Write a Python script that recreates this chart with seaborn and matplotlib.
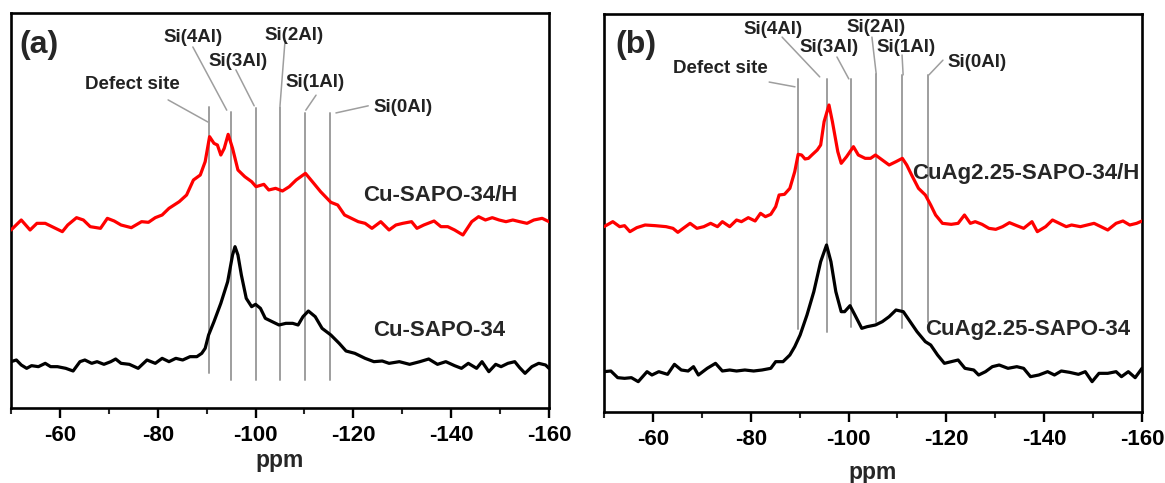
import matplotlib
matplotlib.use("Agg")
import matplotlib.pyplot as plt
from matplotlib.ticker import MultipleLocator
import seaborn as sns

# ---------------- data: 29Si MAS NMR spectra (chemical shift in ppm) ----------------
# Panel (a): Cu-SAPO-34/H (red, stacked above) and Cu-SAPO-34 (black)
a_h_ppm = [-50.0, -52.1, -53.9, -55.3, -57.0, -59.1, -60.5, -61.6, -63.4, -64.8, -66.2, -68.3,
           -69.7, -71.1, -72.5, -74.6, -76.7, -78.1, -79.5, -80.9, -82.3, -84.4, -85.9, -87.3,
           -88.7, -89.7, -90.6, -91.5, -92.2, -92.9, -93.6, -94.4, -95.3, -96.4, -97.8, -99.2,
           -100.1, -101.7, -102.7, -104.1, -105.5, -106.9, -108.3, -110.2, -111.9, -113.3,
           -115.4, -116.8, -118.2, -119.6, -121.0, -122.4, -123.8, -125.6, -127.3, -128.7,
           -130.1, -131.9, -133.0, -134.4, -136.5, -137.9, -139.3, -140.7, -142.4, -144.2,
           -145.6, -147.0, -148.4, -149.8, -151.2, -152.6, -154.0, -155.5, -156.9, -158.6, -160.0]
a_h_int = [49.5, 52.5, 49.5, 51.5, 51.5, 50.0, 49.0, 51.0, 53.2, 52.5, 50.5, 50.0,
           53.0, 52.2, 51.0, 50.2, 52.0, 51.8, 53.2, 54.0, 56.0, 58.0, 60.0, 64.5,
           66.0, 70.0, 77.5, 75.5, 75.0, 72.0, 74.0, 78.2, 74.0, 67.5, 65.5, 64.0,
           62.5, 63.2, 61.5, 62.0, 61.2, 62.5, 64.5, 66.5, 63.5, 61.0,
           57.8, 57.0, 54.0, 53.0, 52.0, 51.5, 50.0, 52.0, 49.5, 51.0,
           51.5, 52.0, 50.0, 51.0, 52.2, 50.5, 50.5, 49.5, 48.0, 52.0,
           53.5, 52.5, 53.2, 52.5, 52.0, 52.5, 52.0, 51.5, 52.5, 53.0, 52.0]

a_cu_ppm = [-50.0, -51.1, -52.1, -53.2, -54.2, -55.6, -57.0, -58.1, -59.5, -61.2, -62.7, -64.1,
            -65.1, -66.5, -67.6, -69.0, -70.4, -71.4, -72.5, -74.2, -76.0, -77.8, -79.5, -80.9,
            -82.3, -83.7, -85.1, -86.6, -88.0, -89.0, -89.7, -90.4, -91.5, -92.9, -94.3, -95.3,
            -95.8, -96.4, -97.1, -98.1, -99.2, -100.0, -101.0, -102.0, -103.4, -104.8, -106.2,
            -107.6, -108.7, -109.7, -110.8, -112.2, -113.6, -115.4, -117.1, -118.5, -120.3,
            -122.4, -124.2, -125.9, -127.3, -129.4, -131.5, -133.6, -135.4, -137.2, -138.9,
            -140.7, -142.1, -143.5, -145.2, -146.3, -147.7, -149.1, -150.2, -151.6, -153.0,
            -154.0, -155.1, -156.5, -157.9, -159.3, -160.0]
a_cu_int = [10.0, 10.5, 9.0, 8.0, 8.8, 8.5, 9.5, 8.5, 8.5, 8.0, 7.2, 10.0,
            10.5, 9.5, 10.0, 9.2, 10.0, 10.8, 9.5, 9.2, 8.0, 10.5, 9.5, 11.0,
            10.0, 11.0, 10.5, 11.5, 11.5, 12.5, 14.0, 18.0, 22.0, 27.5, 34.0, 42.0,
            44.5, 42.0, 36.0, 29.0, 26.5, 27.2, 26.0, 23.0, 22.0, 21.0, 21.5,
            21.5, 21.0, 23.5, 25.2, 23.5, 20.0, 18.0, 15.5, 13.2, 12.5,
            11.0, 10.0, 10.2, 9.5, 10.0, 9.2, 10.0, 10.8, 9.2, 10.0,
            8.8, 8.0, 9.5, 8.0, 10.0, 7.0, 9.2, 8.5, 9.5, 10.0,
            8.2, 6.5, 8.5, 9.5, 9.0, 8.0]

# Panel (b): CuAg2.25-SAPO-34/H (red, stacked above) and CuAg2.25-SAPO-34 (black)
b_h_ppm = [-50.0, -51.8, -53.2, -54.2, -55.3, -56.7, -58.4, -60.5, -62.7, -64.1, -65.1, -66.2,
           -67.6, -69.0, -70.4, -71.8, -73.2, -74.2, -75.7, -77.1, -78.1, -79.5, -80.9, -82.0,
           -83.0, -84.1, -85.1, -85.8, -86.9, -88.0, -89.0, -89.7, -90.4, -91.1, -91.8, -92.5,
           -93.6, -94.3, -95.0, -96.0, -96.7, -97.8, -98.5, -99.6, -101.0, -102.0, -103.4,
           -104.5, -105.5, -106.9, -108.3, -109.7, -111.0, -111.9, -112.9, -114.3, -115.7,
           -116.8, -117.8, -119.2, -121.0, -122.4, -123.7, -124.9, -125.9, -127.3, -128.7,
           -130.1, -131.5, -132.9, -134.4, -135.8, -137.5, -138.6, -140.3, -141.7, -143.1,
           -144.5, -145.6, -147.4, -148.8, -150.2, -151.6, -153.0, -154.7, -156.1, -157.5,
           -158.9, -160.0]
b_h_int = [50.5, 52.0, 50.5, 50.8, 49.0, 50.2, 51.0, 50.8, 50.5, 50.0, 48.8, 50.0,
           51.5, 50.0, 50.5, 51.5, 50.5, 52.0, 50.5, 52.5, 52.0, 53.2, 52.2, 54.5,
           53.5, 54.2, 56.5, 60.0, 60.2, 62.0, 67.0, 72.2, 72.0, 70.8, 71.0, 72.0,
           73.5, 75.0, 82.0, 87.0, 82.0, 73.0, 69.5, 71.5, 74.5, 72.0, 71.0,
           71.0, 72.0, 70.5, 69.0, 70.0, 71.0, 69.0, 66.0, 62.0, 60.0,
           57.0, 54.0, 51.5, 51.2, 51.5, 54.0, 51.5, 52.0, 51.2, 50.0,
           49.7, 50.5, 51.7, 50.8, 50.0, 52.0, 49.0, 50.5, 52.5, 51.5,
           50.5, 51.0, 50.5, 51.0, 51.5, 50.5, 49.5, 51.5, 52.2, 51.0,
           51.5, 52.2]

b_cu_ppm = [-50.0, -51.4, -52.8, -54.2, -55.6, -57.0, -58.8, -59.8, -61.2, -63.0, -64.4, -65.8,
            -67.2, -68.3, -69.3, -71.1, -72.8, -74.2, -75.7, -77.1, -78.8, -80.6, -82.3, -84.1,
            -85.1, -86.6, -88.0, -89.0, -90.1, -91.5, -92.9, -94.3, -95.5, -96.4, -97.4, -98.5,
            -99.2, -100.3, -101.3, -102.7, -103.8, -105.5, -106.9, -108.3, -109.7, -111.2,
            -112.6, -114.0, -115.7, -116.8, -118.2, -119.6, -121.0, -122.4, -123.8, -125.6,
            -126.6, -128.0, -129.4, -130.8, -132.6, -134.4, -135.8, -137.2, -138.9, -140.7,
            -142.1, -143.5, -145.2, -147.0, -148.4, -149.8, -151.2, -153.0, -154.7, -155.8,
            -157.2, -158.6, -160.0]
b_cu_int = [7.0, 7.2, 5.2, 5.0, 5.2, 4.0, 7.0, 6.0, 7.0, 6.2, 9.2, 7.5,
            7.2, 8.5, 6.0, 8.0, 9.5, 7.2, 7.5, 7.2, 7.5, 7.2, 7.5, 8.0,
            10.0, 10.0, 12.0, 14.5, 18.0, 24.0, 31.0, 40.0, 45.0, 40.0, 31.0, 25.0,
            25.0, 26.8, 24.0, 20.0, 20.5, 21.0, 22.0, 23.5, 25.5, 25.0,
            22.0, 19.0, 16.0, 15.0, 12.0, 9.5, 10.0, 10.5, 8.0, 7.5,
            6.0, 7.0, 8.5, 9.0, 8.0, 8.5, 8.0, 5.5, 6.0, 7.0,
            6.0, 7.2, 6.8, 6.2, 7.0, 4.0, 6.5, 6.5, 7.0, 5.5,
            7.0, 5.2, 8.0]

# Si environments marked on each panel
site_labels = ["Defect site", "Si(4Al)", "Si(3Al)", "Si(2Al)", "Si(1Al)", "Si(0Al)"]
a_site_ppm = [-90.5, -95.0, -100.1, -105.0, -110.1, -115.2]
b_site_ppm = [-89.7, -95.5, -100.6, -105.6, -110.9, -116.3]

a_names = ["Cu-SAPO-34/H", "Cu-SAPO-34"]
b_names = ["CuAg2.25-SAPO-34/H", "CuAg2.25-SAPO-34"]

x_ticks = [-60, -80, -100, -120, -140, -160]

# ---------------- styling ----------------
sns.set_theme(style="white")
plt.rcParams["font.family"] = ["Liberation Sans", "DejaVu Sans"]
plt.rcParams["font.weight"] = "bold"
plt.rcParams["axes.unicode_minus"] = False

RED = "#ff0000"
GREY = "#9e9e9e"
LW = 2.3

fig = plt.figure(figsize=(11.65, 4.83), dpi=100)
ax_a = fig.add_axes([11 / 1165, 75 / 483, 538 / 1165, 395 / 483])
ax_b = fig.add_axes([604 / 1165, 71 / 483, 538 / 1165, 398 / 483])


def style_axes(ax, ylim):
    ax.set_xlim(-50, -160)
    ax.set_ylim(*ylim)
    ax.set_yticks([])
    ax.set_xticks(x_ticks)
    ax.xaxis.set_minor_locator(MultipleLocator(10))
    ax.tick_params(axis="x", which="major", direction="out", length=7, width=1.7,
                   labelsize=16, pad=5, colors="black", bottom=True)
    ax.tick_params(axis="x", which="minor", direction="out", length=4.5, width=1.5,
                   bottom=True)
    for lab in ax.get_xticklabels():
        lab.set_fontweight("bold")
    for sp in ax.spines.values():
        sp.set_visible(True)
        sp.set_color("black")
        sp.set_linewidth(1.9)
    ax.set_xlabel("")
    ax.set_ylabel("")
    ax.grid(False)
    ax.set_facecolor("white")


def draw_sites(ax, site_ppm, tops, bottoms, texts, leaders):
    trans = ax.get_xaxis_transform()
    for x, top, bot in zip(site_ppm, tops, bottoms):
        ax.plot([x, x], [bot, top], transform=trans, color=GREY, lw=1.4, zorder=1)
    for label, (tx, ty) in zip(site_labels, texts):
        ax.text(tx, ty, label, transform=ax.transAxes, ha="center", va="center",
                fontsize=13.5, fontweight="bold", color="#222222")
    for (x0, y0, x1, y1) in leaders:
        ax.plot([x0, x1], [y0, y1], transform=ax.transAxes, color=GREY, lw=1.1, zorder=1)


# ---------------- panel (a) ----------------
sns.lineplot(x=a_h_ppm, y=a_h_int, ax=ax_a, color=RED, lw=LW, estimator=None, zorder=3)
sns.lineplot(x=a_cu_ppm, y=a_cu_int, ax=ax_a, color="black", lw=LW, estimator=None, zorder=3)
style_axes(ax_a, (-3.9, 114.6))
draw_sites(
    ax_a, a_site_ppm,
    tops=[0.762, 0.750, 0.760, 0.762, 0.748, 0.748],
    bottoms=[0.089, 0.071, 0.071, 0.071, 0.071, 0.071],
    texts=[(0.226, 0.820), (0.339, 0.937), (0.422, 0.878), (0.527, 0.944),
           (0.566, 0.823), (0.728, 0.762)],
    leaders=[(0.292, 0.780, 0.366, 0.724), (0.338, 0.914, 0.401, 0.754),
             (0.418, 0.856, 0.452, 0.765), (0.509, 0.924, 0.500, 0.765),
             (0.567, 0.792, 0.548, 0.754), (0.664, 0.765, 0.604, 0.747)],
)
ax_a.text(0.015, 0.920, "(a)", transform=ax_a.transAxes, ha="left", va="center",
          fontsize=23, fontweight="bold")
ax_a.text(-137.7, 60.0, a_names[0], ha="center", va="center", fontsize=16, fontweight="bold")
ax_a.text(-137.5, 19.5, a_names[1], ha="center", va="center", fontsize=16, fontweight="bold")

# ---------------- panel (b) ----------------
sns.lineplot(x=b_h_ppm, y=b_h_int, ax=ax_b, color=RED, lw=LW, estimator=None, zorder=3)
sns.lineplot(x=b_cu_ppm, y=b_cu_int, ax=ax_b, color="black", lw=LW, estimator=None, zorder=3)
style_axes(ax_b, (-5.1, 114.3))
draw_sites(
    ax_b, b_site_ppm,
    tops=[0.837, 0.837, 0.837, 0.849, 0.847, 0.847],
    bottoms=[0.209, 0.201, 0.214, 0.226, 0.211, 0.226],
    texts=[(0.217, 0.862), (0.314, 0.960), (0.418, 0.915), (0.505, 0.965),
           (0.561, 0.917), (0.694, 0.877)],
    leaders=[(0.307, 0.829, 0.355, 0.817), (0.331, 0.942, 0.401, 0.842),
             (0.433, 0.892, 0.455, 0.837), (0.498, 0.942, 0.506, 0.849),
             (0.554, 0.897, 0.556, 0.847), (0.630, 0.884, 0.604, 0.847)],
)
ax_b.text(0.022, 0.923, "(b)", transform=ax_b.transAxes, ha="left", va="center",
          fontsize=23, fontweight="bold")
ax_b.text(-136.3, 66.5, b_names[0], ha="center", va="center", fontsize=16, fontweight="bold")
ax_b.text(-136.6, 19.5, b_names[1], ha="center", va="center", fontsize=16, fontweight="bold")

# axis titles
fig.text(280 / 1165, 1 - 461 / 483, "ppm", ha="center", va="center", fontsize=16.5, fontweight="bold")
fig.text(873 / 1165, 1 - 473 / 483, "ppm", ha="center", va="center", fontsize=16.5, fontweight="bold")

fig.savefig("out.png", dpi=100, facecolor="white")
